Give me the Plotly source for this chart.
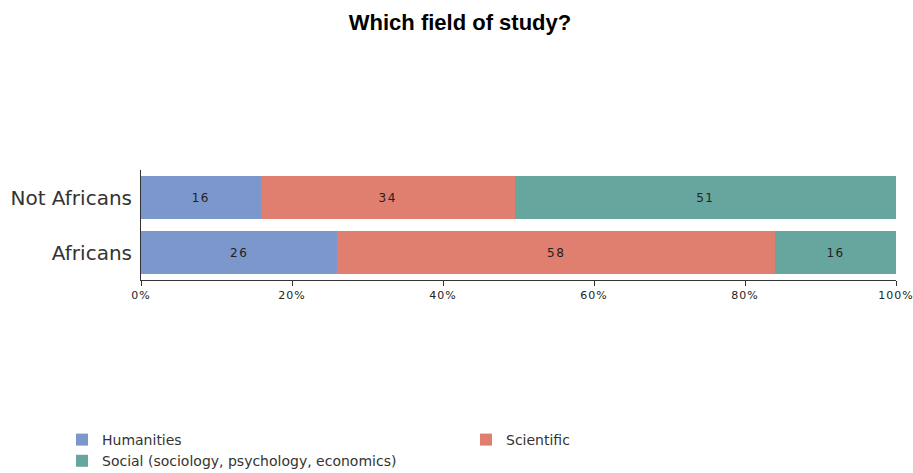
import plotly.graph_objects as go

# Survey responses: field of study by group
groups = ["Africans", "Not Africans"]
fields = ["Humanities", "Scientific", "Social (sociology, psychology, economics)"]
humanities = [26, 16]
scientific = [58, 34]
social = [16, 51]
colors = ["#7b97cc", "#e07e6f", "#67a69e"]
x_ticks = [0, 20, 40, 60, 80, 100]

fig = go.Figure()
for name, vals, col in zip(fields, [humanities, scientific, social], colors):
    fig.add_trace(go.Bar(
        y=groups, x=vals, name=name, orientation="h",
        marker=dict(color=col, line=dict(width=0)),
        text=vals, textposition="inside", insidetextanchor="middle",
        textfont=dict(family="DejaVu Sans", size=12, color="#222222"),
        hoverinfo="x+y+name",
    ))

# plot area: x 141..896, y 170..280 (pixels)
L, R, T, B = 141, 17, 170, 193
W, H = 913, 473
pw, ph = W - L - R, H - T - B

fig.update_layout(
    width=W, height=H,
    barmode="stack", barnorm="percent", bargap=0.21,
    plot_bgcolor="white", paper_bgcolor="white",
    margin=dict(l=L, r=R, t=T, b=B, autoexpand=False),
    title=dict(text="<b>Which field of study?</b>", x=460 / W, xanchor="center",
               xref="container", y=1 - 22 / H, yanchor="middle",
               font=dict(family="Liberation Sans", size=22, color="#000000")),
    font=dict(family="DejaVu Sans", color="#222222"),
    showlegend=True,
    legend=dict(orientation="h",
                x=(62 - L) / pw, xanchor="left",
                y=((H - B) - 424) / ph, yanchor="top",
                entrywidth=359, entrywidthmode="pixels",
                traceorder="normal", tracegroupgap=0,
                font=dict(family="DejaVu Sans", size=14, color="#333333")),
    uniformtext=dict(mode="show", minsize=8),
)
fig.update_xaxes(
    range=[0, 100], tickvals=x_ticks, ticktext=[f"{v}%" for v in x_ticks],
    showgrid=False, zeroline=False, showline=True, linecolor="#333333", linewidth=1,
    ticks="outside", ticklen=5, tickcolor="#333333", ticklabeloverflow="allow",
    tickfont=dict(family="DejaVu Sans", size=11, color="#222222"),
)
fig.update_yaxes(
    showgrid=False, zeroline=False, showline=True, linecolor="#333333", linewidth=1,
    ticks="", ticklabelstandoff=4,
    tickfont=dict(family="DejaVu Sans", size=20, color="#333333"),
    range=[-0.5, 1.5],
)

# widen the small labels a little with letter spacing
spacing_js = """
var gd = document.getElementById('{plot_id}');
gd.querySelectorAll('.xtick text').forEach(function(t) {
    t.style.letterSpacing = '1px';
});
gd.querySelectorAll('.bartext').forEach(function(t) {
    t.style.letterSpacing = '1.5px';
});
"""
fig.write_html("out.html", post_script=spacing_js)
